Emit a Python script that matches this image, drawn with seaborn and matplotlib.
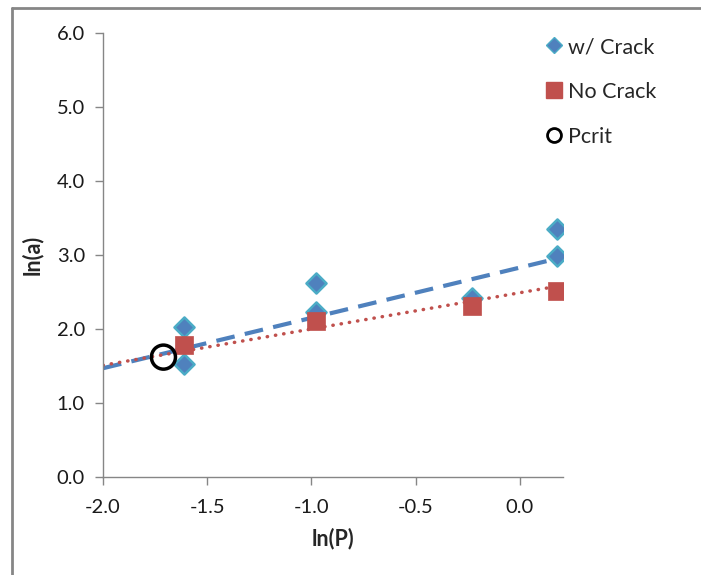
import numpy as np
import pandas as pd
import matplotlib
matplotlib.use("Agg")
import matplotlib.pyplot as plt
import seaborn as sns
from matplotlib.lines import Line2D

# ---- data ----
crack_x = [-1.61, -1.61, -0.98, -0.98, -0.23, 0.18, 0.18]
crack_y = [2.03, 1.53, 2.62, 2.23, 2.42, 3.35, 2.99]
nocrack_x = [-1.61, -0.98, -0.23, 0.18]
nocrack_y = [1.78, 2.11, 2.31, 2.51]
pcrit_x = [-1.71]
pcrit_y = [1.62]
# trendlines (slope, intercept), drawn from x=-2.0 to last point
crack_trend = [0.68, 2.83]
nocrack_trend = [0.49, 2.49]
trend_x = [-2.0, 0.18]
x_ticks = [-2.0, -1.5, -1.0, -0.5, 0.0]
y_ticks = [0.0, 1.0, 2.0, 3.0, 4.0, 5.0, 6.0]

sns.set_theme(style="white")
plt.rcParams["font.family"] = ["Lato", "DejaVu Sans"]

fig = plt.figure(figsize=(7.01, 5.75), dpi=100)
ax = fig.add_axes([103/701, 1-477/575, (563-103)/701, (477-33)/575])

blue = "#4F81BD"
cyan = "#4BACC6"
red = "#C0504D"

# trendlines
tx = np.array(trend_x)
ax.plot(tx, crack_trend[0]*tx + crack_trend[1], color=blue, lw=3,
        dashes=(4.5, 2.5), zorder=2)
ax.plot(tx, nocrack_trend[0]*tx + nocrack_trend[1], color=red, lw=2.5,
        linestyle=(0, (0.1, 2.3)), dash_capstyle="round", zorder=2)

df_c = pd.DataFrame({"x": crack_x, "y": crack_y})
df_n = pd.DataFrame({"x": nocrack_x, "y": nocrack_y})
df_p = pd.DataFrame({"x": pcrit_x, "y": pcrit_y})

sns.scatterplot(data=df_c, x="x", y="y", ax=ax, marker="D", s=105,
                color=blue, edgecolor=cyan, linewidth=1.8, zorder=3)
sns.scatterplot(data=df_n, x="x", y="y", ax=ax, marker="s", s=180,
                color=red, edgecolor=red, linewidth=0.5, zorder=4)
ax.scatter(df_p["x"], df_p["y"], marker="o", s=300, facecolors="none",
           edgecolors="black", linewidths=2.5, zorder=5)

ax.set_xlim(-2.0, 0.207)
ax.set_ylim(0, 6.0)
ax.set_xticks(x_ticks)
ax.set_xticklabels([f"{v:.1f}" for v in x_ticks])
ax.set_yticks(y_ticks)
ax.set_yticklabels([f"{v:.1f}" for v in y_ticks])

ax.set_xlabel("ln(P)", fontsize=15.5, fontweight="bold", labelpad=8)
ax.set_ylabel("ln(a)", fontsize=15.5, fontweight="bold", labelpad=10)

for s in ["top", "right"]:
    ax.spines[s].set_visible(False)
for s in ["left", "bottom"]:
    ax.spines[s].set_color("#868686")
    ax.spines[s].set_linewidth(1.0)
ax.tick_params(axis="both", which="major", length=6, width=1.0,
               color="#868686", labelsize=14.5, labelcolor="#1a1a1a",
               direction="out", pad=7)
ax.tick_params(axis="x", pad=10)
ax.tick_params(left=True, bottom=True)

handles = [
    Line2D([], [], marker="D", ls="", markersize=8, markerfacecolor=blue,
           markeredgecolor=cyan, markeredgewidth=1.0, label="w/ Crack"),
    Line2D([], [], marker="s", ls="", markersize=11, markerfacecolor=red,
           markeredgecolor=red, label="No Crack"),
    Line2D([], [], marker="o", ls="", markersize=10, markerfacecolor="none",
           markeredgecolor="black", markeredgewidth=2, label="Pcrit"),
]
leg = fig.legend(handles=handles, loc="upper left",
                 bbox_to_anchor=(541/701, 1-37/575), frameon=False,
                 fontsize=15.5, labelspacing=1.15, handletextpad=0.05,
                 handlelength=1.2, borderaxespad=0, borderpad=0)

# outer chart frame (top and left edges visible)
fig.add_artist(Line2D([12/701, 12/701], [0, 1-8/575], transform=fig.transFigure,
                      color="#868686", lw=2))
fig.add_artist(Line2D([12/701, 1.01], [1-8/575, 1-8/575], transform=fig.transFigure,
                      color="#868686", lw=2))

fig.savefig("out.png", dpi=100)
